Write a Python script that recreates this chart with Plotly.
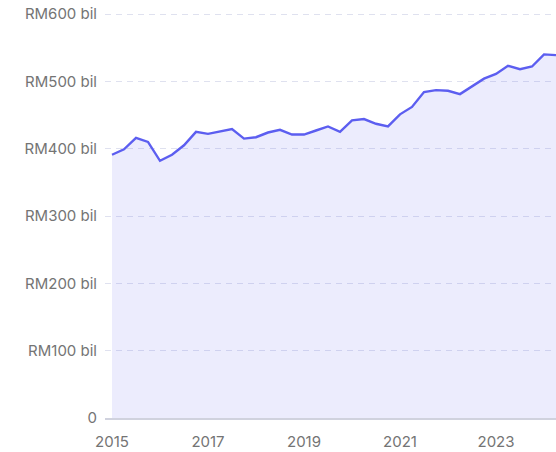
import plotly.graph_objects as go

quarters = [2015 + i * 0.25 for i in range(38)]
values = [391, 399, 416, 410, 382, 391, 405, 425,
          422, 426, 429, 415, 417, 424, 428, 421,
          421, 427, 433, 425, 442, 444, 437, 433,
          451, 462, 484, 487, 486, 481, 493, 504,
          511, 523, 518, 522, 540, 539]
y_ticks = [0, 100, 200, 300, 400, 500, 600]
y_labels = ["0", "RM100 bil", "RM200 bil", "RM300 bil", "RM400 bil", "RM500 bil", "RM600 bil"]
x_ticks = [2015, 2017, 2019, 2021, 2023]
x_labels = ["2015", "2017", "2019", "2021", "2023"]

fig = go.Figure()
fig.add_trace(go.Scatter(
    x=quarters, y=values, mode="lines",
    line=dict(color="#5c5ef0", width=2.4),
    fill="tozeroy", fillcolor="rgba(99,102,241,0.12)",
    hoverinfo="skip", showlegend=False,
))

fig.update_layout(
    width=556, height=452,
    margin=dict(l=105, r=0, t=13, b=34),
    paper_bgcolor="white", plot_bgcolor="white",
    font=dict(family="Inter", size=15, color="#747474"),
    xaxis=dict(
        range=[2015 - 7 / 48, 2024.25], tickvals=x_ticks, ticktext=x_labels,
        showgrid=False, zeroline=False, showline=True, linecolor="#d0d2de",
        linewidth=1.5, ticks="", ticklabelstandoff=9,
    ),
    yaxis=dict(
        range=[0, 601.5], tickvals=y_ticks, ticktext=y_labels,
        showgrid=True, gridcolor="#dfe1ef", griddash="6px,5px", gridwidth=1.2,
        zeroline=False, showline=False, ticks="", ticklabelstandoff=7,
    ),
)

fig.write_html("out.html")
